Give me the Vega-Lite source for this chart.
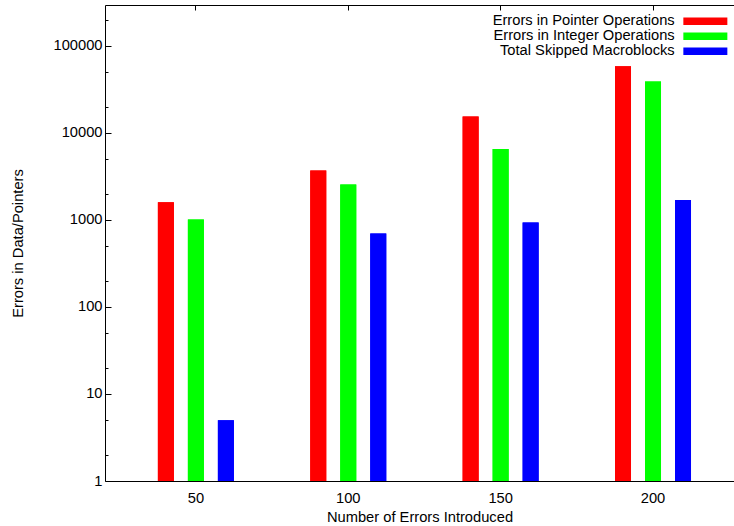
{
  "$schema": "https://vega.github.io/schema/vega-lite/v6.json",
  "width": 629,
  "height": 476,
  "autosize": {"type": "none"},
  "padding": {"left": 105, "top": 5, "right": 0, "bottom": 45},
  "background": "white",
  "config": {
    "view": {"stroke": null},
    "font": "Liberation Sans",
    "axis": {
      "domainColor": "black",
      "domainWidth": 1,
      "tickColor": "black",
      "labelColor": "black",
      "titleColor": "black",
      "labelFontSize": 14.7,
      "titleFontSize": 14.7,
      "titleFontWeight": "normal",
      "grid": false,
      "labelFlush": false,
      "labelOverlap": false
    }
  },
  "data": {
    "values": [
      {"errors": "50", "series": "Errors in Pointer Operations", "count": 1600},
      {"errors": "50", "series": "Errors in Integer Operations", "count": 1010},
      {"errors": "50", "series": "Total Skipped Macroblocks", "count": 5},
      {"errors": "100", "series": "Errors in Pointer Operations", "count": 3700},
      {"errors": "100", "series": "Errors in Integer Operations", "count": 2550},
      {"errors": "100", "series": "Total Skipped Macroblocks", "count": 700},
      {"errors": "150", "series": "Errors in Pointer Operations", "count": 15400},
      {"errors": "150", "series": "Errors in Integer Operations", "count": 6550},
      {"errors": "150", "series": "Total Skipped Macroblocks", "count": 935},
      {"errors": "200", "series": "Errors in Pointer Operations", "count": 58500},
      {"errors": "200", "series": "Errors in Integer Operations", "count": 39000},
      {"errors": "200", "series": "Total Skipped Macroblocks", "count": 1700}
    ]
  },
  "encoding": {
    "xOffset": {
      "field": "series",
      "type": "nominal",
      "sort": ["Errors in Pointer Operations", "Errors in Integer Operations", "Total Skipped Macroblocks"],
      "scale": {"paddingInner": 0.4667, "paddingOuter": 0}
    },
    "y": {
      "field": "count",
      "type": "quantitative",
      "stack": null,
      "scale": {"type": "log", "domain": [1, 295000], "nice": false},
      "axis": {
        "title": "Errors in Data/Pointers",
        "values": [1, 2, 5, 10, 20, 50, 100, 200, 500, 1000, 2000, 5000, 10000, 20000, 50000, 100000, 200000],
        "labelExpr": "indexof([1,10,100,1000,10000,100000], datum.value) >= 0 ? format(datum.value, 'd') : ''",
        "tickSize": -6,
        "tickDash": {"condition": {"test": "indexof([1,10,100,1000,10000,100000], datum.value) >= 0", "value": []}, "value": [3, 20]},
        "labelPadding": 9,
        "titlePadding": 27
      }
    },
    "color": {
      "field": "series",
      "type": "nominal",
      "scale": {
        "domain": ["Errors in Pointer Operations", "Errors in Integer Operations", "Total Skipped Macroblocks"],
        "range": ["#ff0000", "#00ff00", "#0000ff"]
      },
      "legend": {
        "title": null,
        "orient": "none",
        "legendX": 593,
        "legendY": 9,
        "padding": 0,
        "symbolType": "M-3.1429,-0.5357L3.1429,-0.5357L3.1429,0.5357L-3.1429,0.5357Z",
        "symbolSize": 196,
        "symbolStrokeWidth": 0,
        "symbolOpacity": 1,
        "labelAlign": "right",
        "labelOffset": -38,
        "labelFontSize": 14.7,
        "labelColor": "black",
        "labelLimit": 0,
        "rowPadding": -1.2
      }
    }
  },
  "layer": [
    {
      "mark": {"type": "bar", "opacity": 1},
      "encoding": {
        "x": {
          "field": "errors",
          "type": "nominal",
          "sort": ["50", "100", "150", "200"],
          "scale": {"paddingInner": 0.5012, "paddingOuter": 0.3146, "align": 0.5516},
          "axis": {
            "orient": "bottom",
            "title": "Number of Errors Introduced",
            "labelAngle": 0,
            "tickSize": -5,
            "labelPadding": 14,
            "titlePadding": 5
          }
        }
      }
    },
    {
      "mark": {"type": "bar", "opacity": 1},
      "encoding": {
        "x": {
          "field": "errors",
          "type": "nominal",
          "sort": ["50", "100", "150", "200"],
          "axis": {
            "orient": "top",
            "title": null,
            "labels": false,
            "tickSize": -5
          }
        }
      }
    }
  ],
  "resolve": {"axis": {"x": "independent"}}
}
